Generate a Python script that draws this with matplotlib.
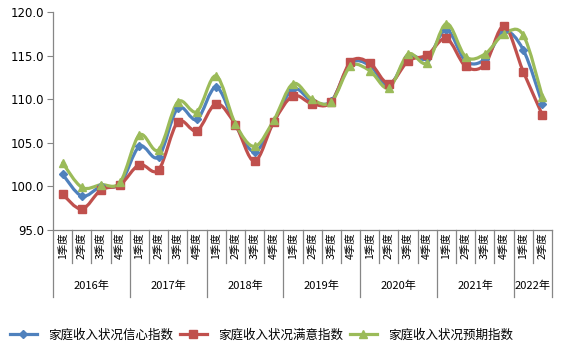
import matplotlib
matplotlib.use("Agg")
import matplotlib.pyplot as plt
from matplotlib.path import Path
from matplotlib.patches import PathPatch
from matplotlib.lines import Line2D
import numpy as np

plt.rcParams['font.family'] = ['Noto Sans CJK SC', 'DejaVu Sans']

years = ['2016年', '2017年', '2018年', '2019年', '2020年', '2021年', '2022年']
quarters_per_year = [4, 4, 4, 4, 4, 4, 2]
quarter_labels = ['1季度', '2季度', '3季度', '4季度'] * 6 + ['1季度', '2季度']

series_names = ['家庭收入状况信心指数', '家庭收入状况满意指数', '家庭收入状况预期指数']

confidence = [101.4, 98.9, 100.0, 100.3,
              104.6, 103.4, 109.0, 107.7,
              111.4, 107.1, 104.0, 107.4,
              111.2, 109.8, 109.8, 114.1,
              113.9, 111.6, 114.9, 114.7,
              118.0, 114.4, 114.6, 117.8,
              115.7, 109.5]
satisfaction = [99.1, 97.4, 99.6, 100.2,
                102.5, 101.9, 107.4, 106.4,
                109.5, 107.1, 102.9, 107.4,
                110.4, 109.5, 109.7, 114.3,
                114.2, 111.8, 114.4, 115.1,
                117.0, 113.8, 114.0, 118.4,
                113.2, 108.2]
expectation = [102.7, 99.9, 100.2, 100.5,
               105.9, 104.2, 109.7, 108.6,
               112.7, 107.2, 104.6, 107.6,
               111.8, 110.0, 109.7, 113.8,
               113.3, 111.3, 115.2, 114.2,
               118.7, 114.9, 115.2, 117.5,
               117.4, 110.3]

colors = ['#4F81BD', '#C0504D', '#9BBB59']
markers = ['D', 's', '^']
marker_sizes = [4, 5.2, 6]


def smooth_path(xs, ys):
    # bezier curve through the points, like excel "smoothed line"
    pts = np.column_stack([xs, ys]).astype(float)
    n = len(pts)
    verts = [pts[0]]
    codes = [Path.MOVETO]
    for i in range(n - 1):
        p0 = pts[i - 1] if i > 0 else pts[i]
        p1 = pts[i]
        p2 = pts[i + 1]
        p3 = pts[i + 2] if i + 2 < n else pts[i + 1]
        c1 = p1 + (p2 - p0) / 6.0
        c2 = p2 - (p3 - p1) / 6.0
        verts += [c1, c2, p2]
        codes += [Path.CURVE4] * 3
    return Path(verts, codes)


fig = plt.figure(figsize=(5.63, 3.59), dpi=100)
ax = fig.add_axes([53 / 563, 1 - 230 / 359, (552 - 53) / 563, (230 - 12.3) / 359])

x = np.arange(len(quarter_labels))
all_series = [confidence, satisfaction, expectation]
for vals, c, m, ms in zip(all_series, colors, markers, marker_sizes):
    ax.add_patch(PathPatch(smooth_path(x, vals), facecolor='none', edgecolor=c,
                           linewidth=2.3, capstyle='round', joinstyle='round'))
    ax.plot(x, vals, linestyle='none', marker=m, markersize=ms, color=c,
            markeredgecolor=c)

ax.set_xlim(-0.5, len(x) - 0.5)
ax.set_ylim(95, 120)
ax.set_yticks(np.arange(95, 120.1, 5))
ax.set_yticklabels(['%.1f' % v for v in np.arange(95, 120.1, 5)],
                   fontsize=8.5, family=['DejaVu Sans'])
ax.tick_params(axis='y', length=4, width=0.8, color='#868686', pad=2.5)

for s in ['top', 'right']:
    ax.spines[s].set_visible(False)
for s in ['left', 'bottom']:
    ax.spines[s].set_color('#868686')
    ax.spines[s].set_linewidth(0.9)

ax.set_xticks(x)
ax.set_xticklabels(quarter_labels, rotation=90, fontsize=7.5, va='top')
ax.tick_params(axis='x', length=0, pad=2)

# category separators
trans = ax.get_xaxis_transform()
bounds = np.arange(len(x) + 1) - 0.5
year_edges = np.concatenate([[0], np.cumsum(quarters_per_year)]) - 0.5
for b in bounds:
    low = -0.31 if b in year_edges else -0.152
    ax.plot([b, b], [0, low], transform=trans, color='#868686', linewidth=0.9,
            clip_on=False)

start = 0
for yr, nq in zip(years, quarters_per_year):
    ax.text(start + (nq - 1) / 2, -0.258, yr, transform=trans, ha='center',
            va='center', fontsize=8)
    start += nq

handles = [Line2D([], [], color=c, marker=m, markersize=ms, linewidth=2.3)
           for c, m, ms in zip(colors, markers, marker_sizes)]
fig.legend(handles, series_names, loc='center left',
           bbox_to_anchor=(10 / 563, 1 - 335 / 359),
           ncol=3, frameon=False, fontsize=9, handlelength=2.15, columnspacing=0.55,
           handletextpad=0.9, borderaxespad=0, borderpad=0)

fig.savefig('out.png', dpi=100)
